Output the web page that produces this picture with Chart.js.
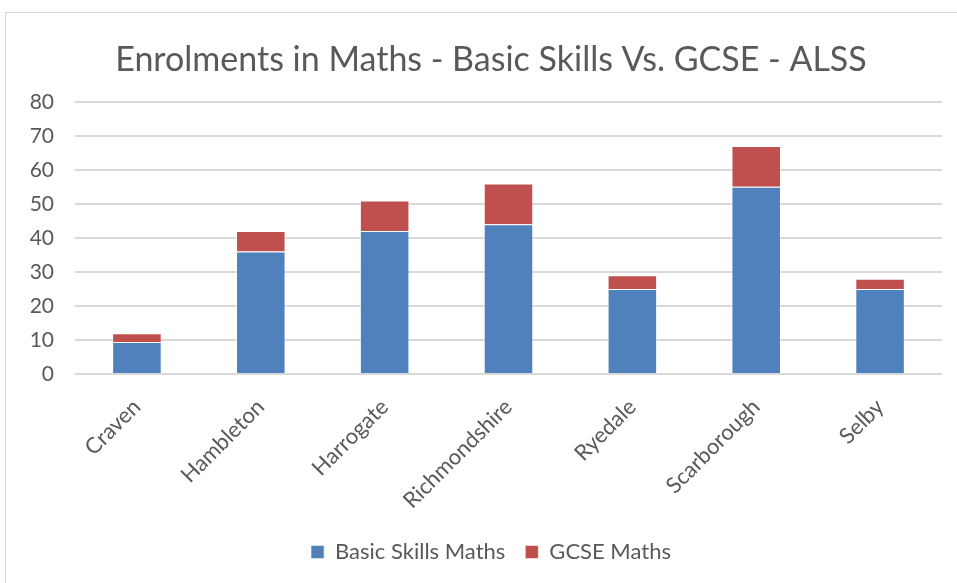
<!DOCTYPE html>
<html lang="en">
<head>
  <meta charset="UTF-8">
  <title>Enrolments in Maths - Basic Skills Vs. GCSE - ALSS</title>
  <script src="https://cdn.jsdelivr.net/npm/chart.js"></script>
  <style>
    html, body { margin: 0; padding: 0; background: #fff; }
    #wrap { position: relative; width: 957px; height: 583px; }
    #frame { position: absolute; left: 5px; top: 12px; width: 960px; height: 580px; border: 1px solid #d9d9d9; pointer-events: none; }
  </style>
</head>
<body>
  <div id="wrap">
    <canvas id="myChart" width="957" height="583"></canvas>
    <div id="frame"></div>
  </div>

  <script>
    const areas = ['Craven', 'Hambleton', 'Harrogate', 'Richmondshire', 'Ryedale', 'Scarborough', 'Selby'];
    const basicSkills = [9.4, 36, 42, 44, 25, 55, 25];
    const gcse = [2.6, 6, 9, 12, 4, 12, 3];
    const yTicks = [0, 10, 20, 30, 40, 50, 60, 70, 80];

    const textColor = '#595959';
    const fontFamily = 'Lato, "Open Sans", sans-serif';

    // title and legend sit a little right of the canvas centre in the original
    const shiftHeaders = {
      id: 'shiftHeaders',
      afterLayout(chart) {
        chart.titleBlock.left = 40;
        chart.legend.left = 40;
      },
    };

    const ctx = document.getElementById('myChart').getContext('2d');
    const myChart = new Chart(ctx, {
      type: 'bar',
      data: {
        labels: areas,
        datasets: [
          {
            label: 'Basic Skills Maths',
            data: basicSkills,
            backgroundColor: '#4f81bd',
            borderColor: 'rgba(255,255,255,0.5)',
            borderWidth: 1,
          },
          {
            label: 'GCSE Maths',
            data: gcse,
            backgroundColor: '#c0504d',
            borderColor: 'rgba(255,255,255,0.5)',
            borderWidth: 1,
          },
        ],
      },
      options: {
        responsive: false,
        animation: false,
        layout: { padding: { left: 0, right: 15, top: 0, bottom: 10 } },
        datasets: { bar: { categoryPercentage: 1, barPercentage: 0.4 } },
        plugins: {
          title: {
            display: true,
            text: 'Enrolments in Maths - Basic Skills Vs. GCSE - ALSS',
            color: textColor,
            font: { family: fontFamily, size: 34, weight: 'normal' },
            padding: { top: 40, bottom: 21 },
          },
          legend: {
            position: 'bottom',
            labels: {
              color: textColor,
              font: { family: fontFamily, size: 22 },
              boxWidth: 13,
              boxHeight: 13,
              padding: 20,
            },
          },
          tooltip: { enabled: false },
        },
        scales: {
          x: {
            stacked: true,
            grid: { display: false },
            border: { display: false },
            ticks: {
              color: textColor,
              font: { family: fontFamily, size: 22 },
              minRotation: 45,
              maxRotation: 45,
              padding: 12,
            },
            afterFit: (axis) => { axis.height = 147; },
          },
          y: {
            stacked: true,
            min: 0,
            max: 80,
            afterBuildTicks: (axis) => { axis.ticks = yTicks.map((v) => ({ value: v })); },
            grid: { color: '#d9d9d9', lineWidth: 2, drawTicks: false },
            border: { display: false },
            ticks: {
              color: textColor,
              font: { family: fontFamily, size: 21 },
              padding: 21,
            },
            afterFit: (axis) => { axis.width = 75; },
          },
        },
      },
      plugins: [shiftHeaders],
    });
  </script>
</body>
</html>
